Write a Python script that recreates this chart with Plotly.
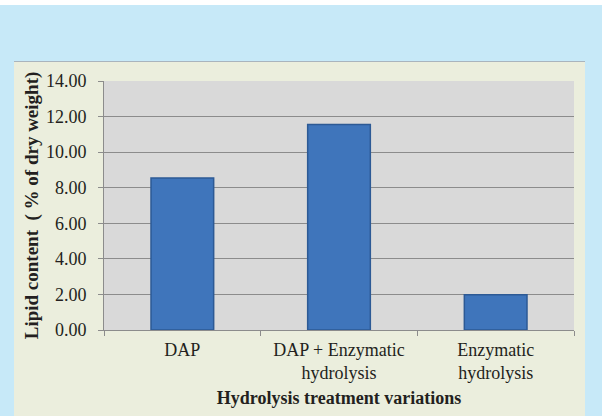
import plotly.graph_objects as go

categories = ["DAP", "DAP + Enzymatic<br>hydrolysis", "Enzymatic<br>hydrolysis"]
lipid_values = [8.55, 11.55, 1.98]
y_tick_values = [0, 2, 4, 6, 8, 10, 12, 14]

fig = go.Figure()
fig.add_trace(go.Bar(
    x=categories, y=lipid_values,
    marker=dict(color="#3f75bb", line=dict(color="#2d5a95", width=1.5)),
    width=0.4,
))

W, H = 602, 416
ml, mr, mt, mb = 104, 28, 81, 86
plot_w = W - ml - mr
plot_h = H - mt - mb

def pxp(x):
    return (x - ml) / plot_w

def pyp(y):
    return (H - mb - y) / plot_h

FONT = "Liberation Serif"
TXT = "#231f20"

fig.update_layout(
    width=W, height=H,
    margin=dict(l=ml, r=mr, t=mt, b=mb),
    paper_bgcolor="#c7e9f8",
    plot_bgcolor="#d9d9d9",
    showlegend=False,
    font=dict(family=FONT, size=18, color=TXT),
    shapes=[
        dict(type="rect", xref="paper", yref="paper",
             x0=pxp(-5), x1=pxp(W + 5), y0=pyp(5), y1=pyp(-5),
             fillcolor="white", line=dict(width=0), layer="below"),
        dict(type="rect", xref="paper", yref="paper",
             x0=pxp(14), x1=pxp(585), y0=pyp(H + 5), y1=pyp(61),
             fillcolor="#ebeedd", line=dict(width=0), layer="below"),
        dict(type="line", xref="paper", yref="paper",
             x0=pxp(14), x1=pxp(585), y0=pyp(61.5), y1=pyp(61.5),
             line=dict(color="#a9b4bd", width=1), layer="below"),
        dict(type="rect", xref="paper", yref="paper",
             x0=0, x1=1, y0=0, y1=1,
             fillcolor="#d9d9d9", line=dict(width=0), layer="below"),
    ],
)

fig.update_xaxes(
    showline=True, linecolor="#8c8c8c", linewidth=1,
    ticks="outside", ticklen=5, tickcolor="#8c8c8c", tickson="boundaries",
    ticklabelstandoff=3,
    tickfont=dict(size=18, family=FONT, color=TXT),
    title=dict(text="<b>Hydrolysis treatment variations</b>",
               font=dict(size=18, family=FONT, color=TXT), standoff=9),
    showgrid=False,
)
fig.update_yaxes(
    range=[0, 14], tickvals=y_tick_values, tickformat=".2f",
    showline=True, linecolor="#8c8c8c", linewidth=1,
    ticks="outside", ticklen=5, tickcolor="#8c8c8c",
    showgrid=True, gridcolor="#8c8c8c", gridwidth=1,
    zeroline=False,
    ticklabelstandoff=8,
    tickfont=dict(size=18, family=FONT, color=TXT),
    title=dict(text="<b>Lipid content \u00a0(\u00a0% of dry weight)</b>",
               font=dict(size=19, family=FONT, color=TXT), standoff=2),
)

fig.write_html("out.html", config={"displayModeBar": False},
               post_script="document.body.style.margin='0px';")
